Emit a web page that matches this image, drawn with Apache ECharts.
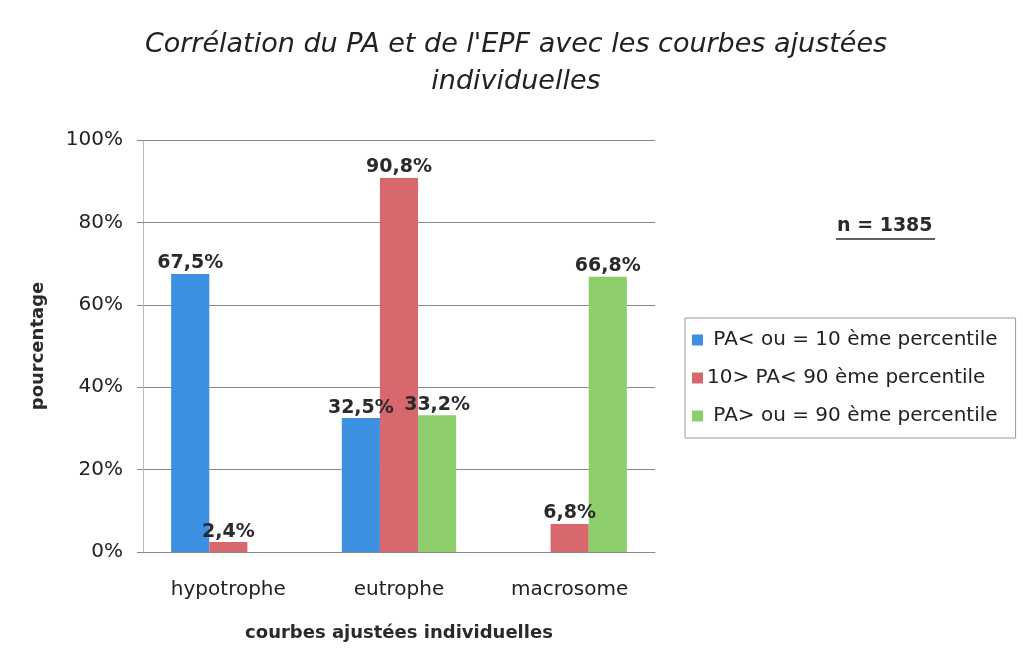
<!DOCTYPE html>
<html>
<head>
<meta charset="utf-8">
<title>Corrélation du PA et de l'EPF</title>
<script src="https://cdn.jsdelivr.net/npm/echarts@6/dist/echarts.min.js"></script>
<style>
  html, body { margin: 0; padding: 0; background: #fff; }
  #chart { width: 1023px; height: 660px; }
</style>
</head>
<body>
<div id="chart"></div>
<script>
// données
const categories = ['hypotrophe', 'eutrophe', 'macrosome']
const seriesNames = [
  ' PA< ou = 10 ème percentile',
  '10> PA< 90 ème percentile',
  ' PA> ou = 90 ème percentile'
]
const bas = [67.5, 32.5, null]
const moyen = [2.4, 90.8, 6.8]
const haut = [null, 33.2, 66.8]
const yTicks = [0, 20, 40, 60, 80, 100]

const couleurs = ['#3d8fe2', '#d9676e', '#8dcd6c']
const font = '"DejaVu Sans", Verdana, sans-serif'

const chart = echarts.init(document.getElementById('chart'))

const labelOpt = {
  show: true,
  position: 'top',
  distance: 1,
  fontFamily: font,
  fontSize: 19,
  fontWeight: 'bold',
  color: '#2a2a2a',
  formatter: p => String(p.value).replace('.', ',') + '%'
}

const makeSerie = (name, data, i) => ({
  name: name,
  type: 'bar',
  data: data,
  barGap: '0%',
  barCategoryGap: '33%',
  itemStyle: { color: couleurs[i] },
  label: labelOpt
})

const option = {
  backgroundColor: '#fff',
  animation: false,
  title: {
    text: "Corrélation du PA et de l'EPF avec les courbes ajustées\nindividuelles",
    left: 511,
    top: 21,
    textAlign: 'center',
    textStyle: {
      fontFamily: font,
      fontSize: 27,
      fontStyle: 'italic',
      fontWeight: 'normal',
      color: '#222',
      lineHeight: 37
    }
  },
  legend: {
    orient: 'vertical',
    left: 685,
    top: 318,
    padding: [12, 18, 12, 7],
    itemGap: 18,
    itemWidth: 11,
    itemHeight: 11,
    borderColor: '#999',
    borderWidth: 1,
    icon: 'rect',
    textStyle: { fontFamily: font, fontSize: 20, color: '#222', padding: [0, 0, 0, -1] },
    data: seriesNames
  },
  grid: {
    left: 143,
    right: 368,
    top: 140,
    bottom: 108
  },
  xAxis: {
    type: 'category',
    data: categories,
    name: 'courbes ajustées individuelles',
    nameLocation: 'middle',
    nameGap: 72,
    nameTextStyle: { fontFamily: font, fontSize: 18, fontWeight: 'bold', color: '#2a2a2a' },
    axisLine: { lineStyle: { color: '#888' } },
    axisTick: { show: false },
    axisLabel: { fontFamily: font, fontSize: 20, color: '#222', margin: 28 }
  },
  yAxis: {
    type: 'value',
    min: yTicks[0],
    max: yTicks[yTicks.length - 1],
    interval: yTicks[1] - yTicks[0],
    name: 'pourcentage',
    nameLocation: 'middle',
    nameGap: 96,
    nameTextStyle: { fontFamily: font, fontSize: 18, fontWeight: 'bold', color: '#2a2a2a' },
    axisLine: { show: true, lineStyle: { color: '#aaa', type: 'dotted' } },
    axisTick: { show: true, length: 6, lineStyle: { color: '#888' } },
    axisLabel: {
      fontFamily: font,
      fontSize: 20,
      color: '#222',
      margin: 20,
      formatter: '{value}%'
    },
    splitLine: { lineStyle: { color: '#8a8a8a', width: 1 } }
  },
  graphic: [
    {
      type: 'text',
      left: 837,
      top: 217,
      style: {
        text: 'n = 1385',
        fontFamily: font,
        fontSize: 19,
        fontWeight: 'bold',
        fill: '#2a2a2a'
      }
    },
    {
      type: 'line',
      shape: { x1: 836, y1: 239, x2: 935, y2: 239 },
      style: { stroke: '#2a2a2a', lineWidth: 1.5 }
    }
  ],
  series: [
    makeSerie(seriesNames[0], bas, 0),
    makeSerie(seriesNames[1], moyen, 1),
    makeSerie(seriesNames[2], haut, 2)
  ]
}

chart.setOption(option)
</script>
</body>
</html>
